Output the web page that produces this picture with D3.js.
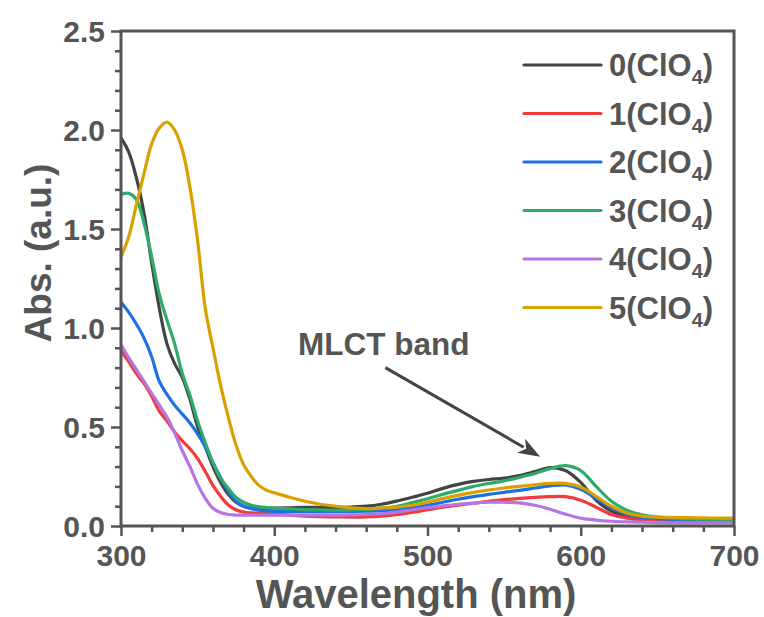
<!DOCTYPE html>
<html>
<head>
<meta charset="utf-8">
<script src="https://cdn.jsdelivr.net/npm/d3@7"></script>
<style>
  html, body { margin: 0; padding: 0; background: #fff; }
  svg text { font-family: "Liberation Sans", Arial, sans-serif; font-weight: bold; fill: #555; }
</style>
</head>
<body>
<svg id="chart" width="764" height="617"></svg>
<script>
// Wavelength grid (nm) shared by all spectra
const wavelength = [300,305,310,315,320,325,330,335,340,345,350,355,360,365,370,375,380,385,390,395,400,
  410,420,430,440,450,460,470,480,490,500,510,520,530,540,550,560,570,580,590,600,
  610,620,630,640,650,660,670,680,690,700];

// Absorbance of each complex
const abs0 = [1.96,1.89,1.76,1.58,1.33,1.10,0.92,0.82,0.75,0.64,0.50,0.40,0.30,0.22,0.16,0.12,0.10,0.09,0.088,0.088,0.09,
  0.092,0.094,0.094,0.094,0.096,0.10,0.11,0.126,0.145,0.165,0.19,0.21,0.225,0.235,0.242,0.255,0.275,0.295,0.28,0.22,
  0.13,0.075,0.05,0.04,0.036,0.033,0.031,0.03,0.03,0.03];
const abs1 = [0.885,0.83,0.77,0.72,0.655,0.58,0.53,0.475,0.43,0.39,0.34,0.275,0.205,0.15,0.106,0.082,0.07,0.066,0.065,0.064,0.064,
  0.055,0.05,0.047,0.046,0.045,0.046,0.05,0.057,0.068,0.082,0.095,0.105,0.115,0.125,0.133,0.14,0.145,0.148,0.148,0.13,
  0.095,0.058,0.04,0.03,0.025,0.023,0.022,0.022,0.022,0.022];
const abs2 = [1.13,1.08,1.02,0.95,0.855,0.73,0.665,0.61,0.565,0.52,0.465,0.40,0.32,0.245,0.175,0.125,0.10,0.088,0.08,0.076,0.074,
  0.073,0.072,0.072,0.072,0.073,0.075,0.078,0.083,0.092,0.105,0.12,0.135,0.148,0.16,0.17,0.18,0.192,0.203,0.207,0.185,
  0.14,0.092,0.06,0.043,0.037,0.033,0.031,0.03,0.029,0.028];
const abs3 = [1.675,1.68,1.65,1.53,1.36,1.17,1.04,0.92,0.77,0.66,0.53,0.42,0.32,0.24,0.19,0.145,0.12,0.105,0.097,0.093,0.09,
  0.086,0.083,0.081,0.08,0.081,0.084,0.09,0.10,0.118,0.138,0.16,0.18,0.20,0.215,0.228,0.245,0.265,0.29,0.305,0.28,
  0.20,0.125,0.08,0.056,0.045,0.039,0.036,0.034,0.033,0.032];
const abs4 = [0.915,0.85,0.79,0.73,0.67,0.61,0.55,0.47,0.38,0.30,0.21,0.14,0.09,0.068,0.058,0.055,0.055,0.055,0.055,0.055,0.055,
  0.055,0.055,0.055,0.055,0.056,0.058,0.062,0.07,0.082,0.093,0.102,0.11,0.116,0.12,0.12,0.117,0.105,0.085,0.06,0.04,
  0.03,0.024,0.021,0.019,0.017,0.016,0.016,0.016,0.016,0.016];
const abs5 = [1.36,1.46,1.62,1.78,1.93,2.01,2.04,2.0,1.90,1.71,1.44,1.10,0.90,0.71,0.55,0.41,0.31,0.25,0.205,0.18,0.168,
  0.145,0.125,0.11,0.10,0.092,0.088,0.09,0.095,0.105,0.12,0.138,0.155,0.17,0.182,0.192,0.20,0.208,0.215,0.215,0.197,
  0.15,0.10,0.066,0.05,0.045,0.043,0.042,0.041,0.04,0.04];

const seriesNames = ["0", "1", "2", "3", "4", "5"];
const seriesColors = ["#444444", "#f23b3b", "#1f6fe6", "#2eab68", "#b476e4", "#d8a100"];
const seriesValues = [abs0, abs1, abs2, abs3, abs4, abs5];

const xTicks = [300, 400, 500, 600, 700];
const yTicks = [0.0, 0.5, 1.0, 1.5, 2.0, 2.5];

// Annotation: label and arrow in data coordinates
const noteText = "MLCT band";
const notePos = [415.5, 0.865];
const arrowFrom = [472.5, 0.80];
const arrowTo = [573.5, 0.35];

const svg = d3.select("#chart");
const margin = { left: 121, right: 30, top: 31, bottom: 91 };
const W = 764, H = 617;
const axisColor = "#555";

const x = d3.scaleLinear().domain([300, 700]).range([margin.left, W - margin.right]);
const y = d3.scaleLinear().domain([0, 2.5]).range([H - margin.bottom, margin.top]);

svg.append("clipPath").attr("id", "plotClip")
  .append("rect")
  .attr("x", x(300)).attr("y", y(2.5))
  .attr("width", x(700) - x(300)).attr("height", y(0) - y(2.5));

// Spectra
const line = d3.line()
  .x(d => x(d[0])).y(d => y(d[1]))
  .curve(d3.curveCatmullRom.alpha(0.5));

const lines = svg.append("g").attr("clip-path", "url(#plotClip)");
seriesValues.forEach((vals, i) => {
  lines.append("path")
    .datum(wavelength.map((w, k) => [w, vals[k]]))
    .attr("d", line)
    .attr("fill", "none")
    .attr("stroke", seriesColors[i])
    .attr("stroke-width", 3.2)
    .attr("stroke-linejoin", "round")
    .attr("stroke-linecap", "round");
});

// Axes
function styleAxis(g) {
  g.select(".domain").remove();
  g.selectAll("line").attr("stroke", axisColor).attr("stroke-width", 2.5);
}

const xMinor = d3.range(300, 701, 20).filter(v => !xTicks.includes(v));
const yMinor = d3.range(0, 26, 1).map(v => v / 10).filter(v => !yTicks.some(t => Math.abs(t - v) < 1e-9));

const gx = svg.append("g").attr("transform", `translate(0,${y(0)})`)
  .call(d3.axisBottom(x).tickValues(xTicks).tickSize(10).tickPadding(6).tickFormat(d3.format("d")));
styleAxis(gx);
gx.selectAll("text").attr("font-size", 30).attr("fill", "#555").attr("font-family", null).attr("dy", "0.8em");

svg.append("g").attr("transform", `translate(0,${y(0)})`)
  .call(d3.axisBottom(x).tickValues(xMinor).tickSize(6).tickFormat(""))
  .call(styleAxis);

const gy = svg.append("g").attr("transform", `translate(${x(300)},0)`)
  .call(d3.axisLeft(y).tickValues(yTicks).tickSize(10).tickPadding(6).tickFormat(d3.format(".1f")));
styleAxis(gy);
gy.selectAll("text").attr("font-size", 30).attr("fill", "#555").attr("font-family", null).attr("dy", "0.35em");

svg.append("g").attr("transform", `translate(${x(300)},0)`)
  .call(d3.axisLeft(y).tickValues(yMinor).tickSize(6).tickFormat(""))
  .call(styleAxis);

// Frame
svg.append("rect")
  .attr("x", x(300)).attr("y", y(2.5))
  .attr("width", x(700) - x(300)).attr("height", y(0) - y(2.5))
  .attr("fill", "none").attr("stroke", axisColor).attr("stroke-width", 3);

// Axis titles
svg.append("text")
  .attr("x", 416).attr("y", 608)
  .attr("text-anchor", "middle")
  .attr("font-size", 40)
  .text("Wavelength (nm)");

svg.append("text")
  .attr("transform", `translate(51,${253}) rotate(-90)`)
  .attr("text-anchor", "middle")
  .attr("font-size", 37)
  .text("Abs. (a.u.)");

// Legend
const legend = svg.append("g");
seriesNames.forEach((name, i) => {
  const ly = 65 + i * 48.5;
  legend.append("line")
    .attr("x1", 524).attr("x2", 601).attr("y1", ly).attr("y2", ly)
    .attr("stroke", seriesColors[i]).attr("stroke-width", 3.2)
    .attr("stroke-linecap", "round");
  const t = legend.append("text")
    .attr("x", 609).attr("y", ly + 11)
    .attr("font-size", 31);
  t.append("tspan").text(name + "(ClO");
  t.append("tspan").attr("font-size", 20).attr("dy", 8).text("4");
  t.append("tspan").attr("dy", -8).text(")");
});

// MLCT annotation
svg.append("text")
  .attr("x", x(notePos[0])).attr("y", y(notePos[1]))
  .attr("font-size", 31.5)
  .text(noteText);

const ax0 = x(arrowFrom[0]), ay0 = y(arrowFrom[1]);
const ax1 = x(arrowTo[0]), ay1 = y(arrowTo[1]);
const ang = Math.atan2(ay1 - ay0, ax1 - ax0);
const headLen = 22, headHalf = 8;
const bx = ax1 - headLen * Math.cos(ang), by = ay1 - headLen * Math.sin(ang);
svg.append("line")
  .attr("x1", ax0).attr("y1", ay0).attr("x2", bx + 3 * Math.cos(ang)).attr("y2", by + 3 * Math.sin(ang))
  .attr("stroke", "#444").attr("stroke-width", 3);
svg.append("path")
  .attr("d", d3.line()([
    [ax1, ay1],
    [bx + headHalf * Math.sin(ang), by - headHalf * Math.cos(ang)],
    [bx + 6 * Math.cos(ang), by + 6 * Math.sin(ang)],
    [bx - headHalf * Math.sin(ang), by + headHalf * Math.cos(ang)]
  ]) + "Z")
  .attr("fill", "#444");
</script>
</body>
</html>
